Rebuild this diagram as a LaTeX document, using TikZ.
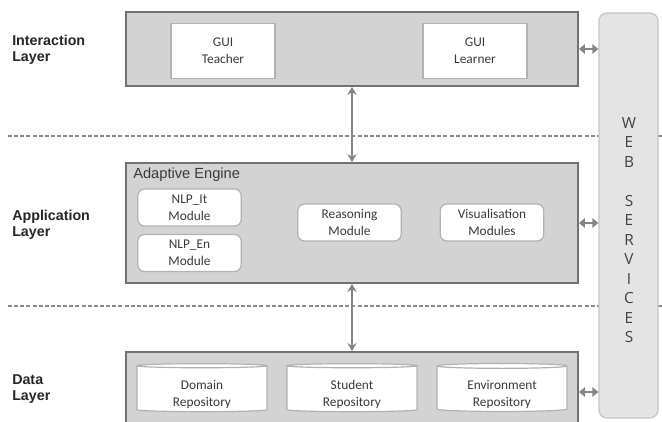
\documentclass[tikz,border=0pt]{standalone}
\usepackage{fontspec}
\setmainfont{Carlito}
\newfontfamily\labelfont{Liberation Sans}
\newfontfamily\wsfont{Open Sans}
\usetikzlibrary{arrows.meta,shapes.geometric,fit}

\definecolor{layerfill}{HTML}{D3D3D3}
\definecolor{layerline}{HTML}{727272}
\definecolor{innerline}{HTML}{B2B2B2}
\definecolor{wsfill}{HTML}{E4E4E4}
\definecolor{wsline}{HTML}{C4C4C4}
\definecolor{arrowgray}{HTML}{858585}
\definecolor{txt}{HTML}{3A3A3A}
\definecolor{sepgray}{HTML}{8C8C8C}

% two-line label, lowered into the body of a cylinder (box size kept)
\newcommand{\repotext}[2]{\raisebox{-4pt}[\height][\depth]{\begin{tabular}{@{}c@{}}#1\\#2\end{tabular}}}

\begin{document}
\begin{tikzpicture}[x=0.75pt,y=-0.75pt,
  layer/.style={draw=layerline, fill=layerfill, line width=1.4pt, inner sep=0pt},
  guibox/.style={draw=innerline, fill=white, line width=0.9pt, inner sep=0pt,
    minimum width=78pt, minimum height=41.25pt,
    align=center, text=txt, font=\fontsize{10}{12.5}\selectfont},
  modbox/.style={guibox, rounded corners=5pt, minimum width=77.5pt, minimum height=27.75pt},
  repo/.style={cylinder, shape border rotate=90, aspect=0.07, draw=innerline,
    fill=white, line width=0.9pt, minimum width=97.5pt, minimum height=36pt,
    inner sep=0pt, text=txt, font=\fontsize{10}{12.5}\selectfont},
  layerlabel/.style={anchor=west, align=left, inner sep=0pt, text=black!85,
    font=\labelfont\bfseries\fontsize{10.7}{12}\selectfont},
  wsbox/.style={draw=wsline, fill=wsfill, line width=0.9pt, rounded corners=6pt,
    inner sep=0pt},
  sep/.style={draw=sepgray, line width=0.8pt, dash pattern=on 3pt off 1.6pt},
  varrow/.style={draw=arrowgray, line width=1.5pt,
    {Stealth[length=6pt,width=7pt,inset=2pt]}-{Stealth[length=6pt,width=7pt,inset=2pt]}},
  harrow/.style={draw=arrowgray, line width=2.2pt,
    {Triangle[length=4.5pt,width=7pt]}-{Triangle[length=4.5pt,width=7pt]}},
]
\useasboundingbox (0,0) rectangle (662,422);
\clip (0,0) rectangle (662,422);

% layer separators
\coordinate (s1l) at (8,136);  \coordinate (s1r) at (662,136);
\coordinate (s2l) at (8,306);  \coordinate (s2r) at (662,306);
\draw[sep] (s1l) -- (s1r);
\draw[sep] (s2l) -- (s2r);

% web services column
\node[wsbox, fit={(599,13) (658,418)}] (ws) {};
\node[align=center, inner sep=0pt, text=black!75,
  font=\wsfont\fontsize{11.5}{14.6}\selectfont] (wslabel) at (629,230)
  {W\\E\\B\\[14.6pt]S\\E\\R\\V\\I\\C\\E\\S};

% layer labels
\node[layerlabel] (linter) at (12,50) {Interaction\\Layer};
\node[layerlabel] (lapp)   at (12,225) {Application\\Layer};
\node[layerlabel] (ldata)  at (12,389) {Data\\Layer};

% interaction layer
\node[layer, fit={(126,12) (578,86)}] (inter) {};
\node[guibox] (teacher) at (223,51) {GUI\\Teacher};
\node[guibox] (learner) at (475,51) {GUI\\Learner};

% application layer
\node[layer, fit={(126,163) (578,283)}] (app) {};
\node[anchor=west, inner sep=0pt, text=txt,
  font=\labelfont\fontsize{11}{13}\selectfont] (engine) at (133,175) {Adaptive Engine};
\node[modbox] (nlpit)  at (189.5,207.5) {NLP\_It\\Module};
\node[modbox] (nlpen)  at (189.5,253)   {NLP\_En\\Module};
\node[modbox] (reason) at (349.5,222.5) {Reasoning\\Module};
\node[modbox] (visual) at (492,222.5)   {Visualisation\\Modules};

% data layer
\node[layer, fit={(126,352) (578,432)}] (data) {};
\node[repo] (domain)  at (202,389) {\repotext{Domain}{Repository}};
\node[repo] (student) at (352,389) {\repotext{Student}{Repository}};
\node[repo] (environ) at (502,389) {\repotext{Environment}{Repository}};

% connectors
\draw[varrow] (inter.south) -- (app.north);
\draw[varrow] (app.south) -- (data.north);
\draw[harrow] (inter.east) -- (inter.east -| ws.west);
\draw[harrow] (app.east) -- (app.east -| ws.west);
\draw[harrow] (data.east) -- (data.east -| ws.west);
\end{tikzpicture}
\end{document}
